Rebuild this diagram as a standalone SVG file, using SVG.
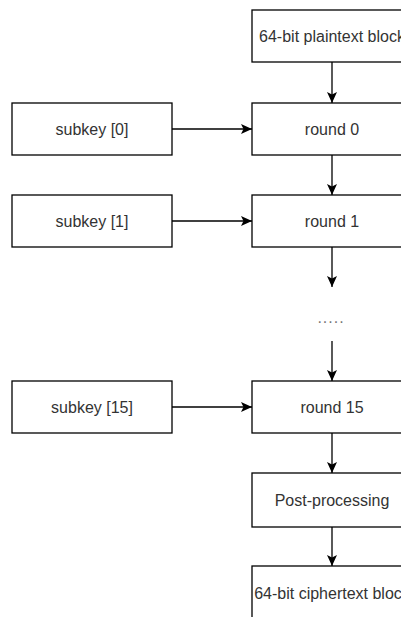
<svg xmlns="http://www.w3.org/2000/svg" width="401" height="617" viewBox="0 0 401 617">
<style>
.box{fill:#ffffff;stroke:#000000;stroke-width:1.3}
.lbl{font-family:"Liberation Sans",Arial,sans-serif;font-size:16px;fill:#333333;text-anchor:middle;dominant-baseline:central}
.edge{stroke:#000000;stroke-width:1.3;fill:none;marker-end:url(#ah)}
</style>
<defs>
<marker id="ah" markerWidth="11" markerHeight="11" viewBox="0 0 11 11" refX="11" refY="5.5" orient="auto" markerUnits="userSpaceOnUse">
<path d="M0,0.5 L11,5.5 L0,10.5 L2.5,5.5 Z" fill="#000000"/>
</marker>
</defs>
<rect width="401" height="617" fill="#ffffff"/>
<g id="edges">
<line class="edge" x1="332" y1="62" x2="332" y2="103"/>
<line class="edge" x1="332" y1="155" x2="332" y2="195"/>
<line class="edge" x1="332" y1="247" x2="332" y2="287"/>
<line class="edge" x1="332" y1="341" x2="332" y2="381"/>
<line class="edge" x1="332" y1="433" x2="332" y2="473"/>
<line class="edge" x1="332" y1="527" x2="332" y2="566"/>
<line class="edge" x1="172" y1="129" x2="252" y2="129"/>
<line class="edge" x1="172" y1="221" x2="252" y2="221"/>
<line class="edge" x1="172" y1="407" x2="252" y2="407"/>
</g>
<g id="plaintext"><rect class="box" x="252" y="10" width="160" height="52"/><text class="lbl" x="332" y="36">64-bit plaintext block</text></g>
<g id="round0"><rect class="box" x="252" y="103" width="160" height="52"/><text class="lbl" x="332" y="129">round 0</text></g>
<g id="round1"><rect class="box" x="252" y="195" width="160" height="52"/><text class="lbl" x="332" y="221">round 1</text></g>
<g id="dots"><text x="331" y="323" style="font-family:'Liberation Sans',Arial,sans-serif;font-size:16px;fill:#777777;text-anchor:middle;letter-spacing:1px">.....</text></g>
<g id="round15"><rect class="box" x="252" y="381" width="160" height="52"/><text class="lbl" x="332" y="407">round 15</text></g>
<g id="post"><rect class="box" x="252" y="473" width="160" height="54"/><text class="lbl" x="332" y="500">Post-processing</text></g>
<g id="ciphertext"><rect class="box" x="252" y="566" width="160" height="54"/><text class="lbl" x="332" y="593">64-bit ciphertext block</text></g>
<g id="subkey0"><rect class="box" x="12" y="103" width="160" height="52"/><text class="lbl" x="92" y="129">subkey [0]</text></g>
<g id="subkey1"><rect class="box" x="12" y="195" width="160" height="52"/><text class="lbl" x="92" y="221">subkey [1]</text></g>
<g id="subkey15"><rect class="box" x="12" y="381" width="160" height="52"/><text class="lbl" x="92" y="407">subkey [15]</text></g>
</svg>
